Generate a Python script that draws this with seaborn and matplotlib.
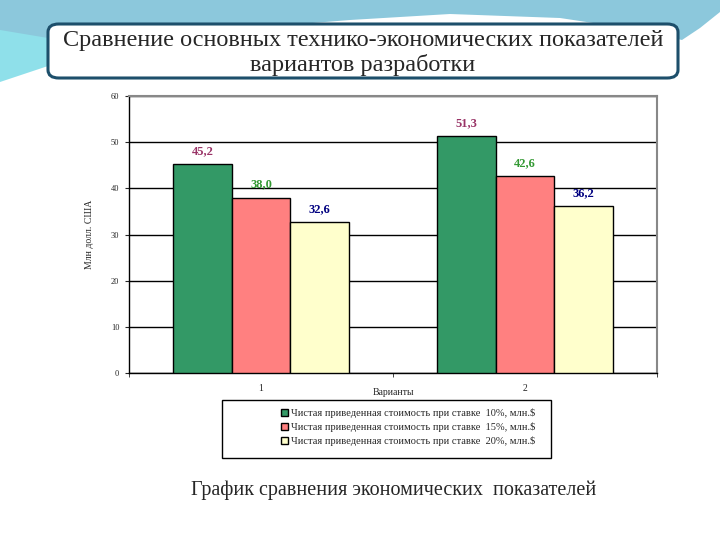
import pandas as pd
import matplotlib
matplotlib.use('Agg')
import matplotlib.pyplot as plt
import seaborn as sns
from matplotlib.patches import FancyBboxPatch, Rectangle, Polygon

variants = ['1', '2']
series = ['Чистая приведенная стоимость при ставке  10%, млн.$',
          'Чистая приведенная стоимость при ставке  15%, млн.$',
          'Чистая приведенная стоимость при ставке  20%, млн.$']
npv_10 = [45.2, 51.3]
npv_15 = [38.0, 42.6]
npv_20 = [32.6, 36.2]
bar_colors = ['#339966', '#FF8080', '#FFFFCC']
label_colors = ['#993366', '#339933', '#000080']

if __name__ == '__main__':
    sns.set_style('white')
    plt.rcParams['font.family'] = ['Liberation Serif', 'DejaVu Serif']

    rows = []
    for s, vals in zip(series, [npv_10, npv_15, npv_20]):
        for v, val in zip(variants, vals):
            rows.append({'variant': v, 'series': s, 'value': val})
    data = pd.DataFrame(rows)

    fig = plt.figure(figsize=(7.2, 5.4), dpi=100)
    W, H = 720.0, 540.0

    def px(x, y):
        return (x / W, 1 - y / H)

    # slide decoration (blue swoosh on top)
    dark = [(0, 0), (720, 0), (720, 12), (700, 28), (682, 40), (640, 30), (560, 18),
            (450, 14), (350, 20), (200, 32), (100, 46), (40, 60), (0, 80)]
    fig.patches.append(Polygon([px(*p) for p in dark], closed=True,
                               transform=fig.transFigure, facecolor='#8cc8dc',
                               edgecolor='none', zorder=0))
    light = [(0, 30), (60, 40), (140, 50), (60, 62), (0, 82)]
    fig.patches.append(Polygon([px(*p) for p in light], closed=True,
                               transform=fig.transFigure, facecolor='#8fe0ea',
                               edgecolor='none', zorder=0))

    # title box
    x0, y0 = px(48, 78)
    x1, y1 = px(678, 24)
    fig.patches.append(FancyBboxPatch((x0, y0), x1 - x0, y1 - y0,
                                      boxstyle='round,pad=0,rounding_size=0.015',
                                      transform=fig.transFigure, facecolor='white',
                                      edgecolor='#1d4f6b', linewidth=2.2, zorder=1))
    fig.text(363 / W, 1 - 53 / H,
             'Сравнение основных технико-экономических показателей\nвариантов разработки',
             ha='center', va='center', fontsize=17.5, linespacing=1.22, zorder=2)

    ax = fig.add_axes([129 / W, 1 - 373 / H, 528 / W, 277 / H])
    sns.barplot(data=data, x='variant', y='value', hue='series', palette=bar_colors,
                width=0.665, edgecolor='black', linewidth=1.0, saturation=1,
                ax=ax, legend=True, zorder=3)

    for cont, col in zip(ax.containers, label_colors):
        labels = [f'{b.get_height():.1f}'.replace('.', ',') for b in cont]
        ax.bar_label(cont, labels=labels, padding=5, color=col, fontsize=9,
                     fontweight='bold')

    ax.set_ylim(0, 60)
    ax.set_xlim(-0.5, 1.5)
    ax.set_yticks(range(0, 61, 10))
    ax.yaxis.grid(True, color='black', linewidth=1.0)
    ax.set_axisbelow(True)
    ax.tick_params(axis='y', labelsize=6, length=3, direction='out', left=True, pad=4)
    ax.tick_params(axis='x', which='major', length=0, labelsize=7, pad=8)
    ax.set_xticks([-0.5, 0.5, 1.5], minor=True)
    ax.tick_params(axis='x', which='minor', length=3, bottom=True, direction='out')
    for side in ['top', 'right']:
        ax.spines[side].set_color('#888888')
        ax.spines[side].set_linewidth(1.5)
    for side in ['left', 'bottom']:
        ax.spines[side].set_color('black')
        ax.spines[side].set_linewidth(1.0)
    ax.set_ylabel('Млн долл. США', fontsize=7, labelpad=12)
    ax.set_xlabel('Варианты', fontsize=7)
    ax.xaxis.set_label_coords(0.5, -0.055)

    handles, labs = ax.get_legend_handles_labels()
    ax.get_legend().remove()
    fig.legend(handles, labs, loc='upper left', bbox_to_anchor=px(277, 404),
               frameon=False, fontsize=7.5, handlelength=0.7, handleheight=0.7,
               handletextpad=0.2, labelspacing=0.4, borderaxespad=0)
    lx0, ly0 = px(222, 458)
    lx1, ly1 = px(551, 400)
    fig.patches.append(Rectangle((lx0, ly0), lx1 - lx0, ly1 - ly0,
                                 transform=fig.transFigure, facecolor='none',
                                 edgecolor='black', linewidth=1.0))

    fig.text(394 / W, 1 - 490 / H, 'График сравнения экономических  показателей',
             ha='center', va='center', fontsize=14.5)

    fig.savefig('out.png', dpi=100)
